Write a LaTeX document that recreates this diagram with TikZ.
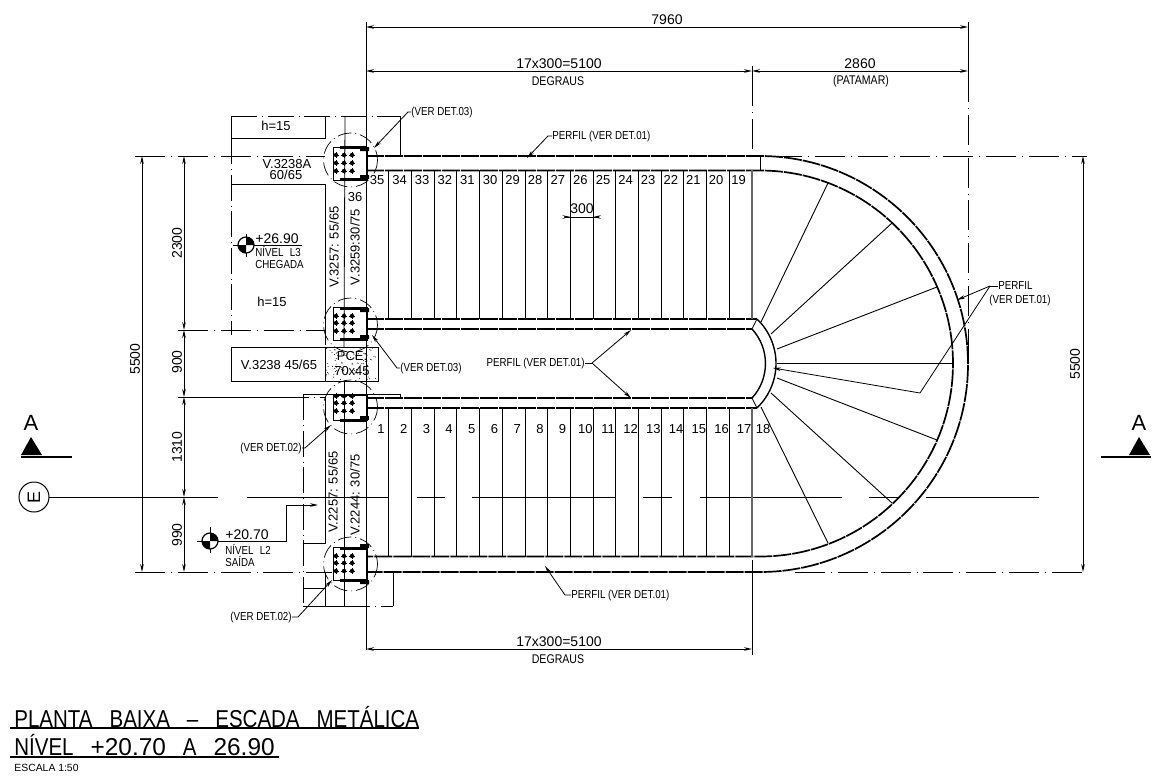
\documentclass[tikz,border=0pt]{standalone}
\usepackage{fontspec}
\setmainfont{Liberation Sans}
\newfontfamily\narrowfont[FakeStretch=0.84]{Liberation Sans}
\usetikzlibrary{arrows.meta}
\tikzset{
  >={Stealth[length=4pt,width=1.8pt]},
  thin line/.style={line width=0.4pt},
  stringer/.style={line width=0.85pt, dash pattern=on 9pt off 0.5pt},
  heavy/.style={line width=1.5pt},
  axis/.style={line width=0.4pt, dash pattern=on 15pt off 3pt on 0.4pt off 3pt},
  hidden/.style={line width=0.5pt, dash pattern=on 13pt off 2.5pt on 0.3pt off 2.5pt},
  ring/.style={line width=0.35pt, dash pattern=on 7pt off 2pt on 0.4pt off 2pt},
  dim/.style={line width=0.5pt, <->},
  leader/.style={line width=0.4pt, ->},
  dimtext/.style={font=\fontsize{7}{8}\selectfont, inner sep=0pt},
  note/.style={font=\narrowfont\fontsize{5.8}{7}\selectfont, inner sep=0pt},
  caption/.style={font=\narrowfont\fontsize{6.3}{7}\selectfont, inner sep=0pt},
  tag/.style={font=\fontsize{6.5}{7.5}\selectfont, inner sep=0pt},
  title/.style={anchor=west, inner sep=0pt, font=\narrowfont\fontsize{12.2}{14}\selectfont},
}
% bolted plate: the three bolt rows
\newcommand{\boltrows}[3]{
  \foreach \by in {#1,#2,#3} \foreach \bx in {336,344,352} {
    \fill (\bx,\by) circle (2.2);
    \draw[line width=0.3pt] (\bx-3,\by) -- (\bx+3,\by) (\bx,\by-3) -- (\bx,\by+3);
  }
}
\newcommand{\plateends}[2]{
  \draw[heavy] (340,#1) -- (367,#1) (340,#2) -- (367,#2);
  \fill (360,#1) rectangle (369,#1+4) (360,#2-4) rectangle (369,#2);
}
\begin{document}
\begin{tikzpicture}[x=0.5pt,y=-0.5pt,line width=0.4pt]
  \useasboundingbox (0,0) rectangle (1152,782);

  % grid lines
  \draw[axis] (135,156) -- (325,156);
  \draw[axis] (772,156) -- (1087,156);
  \draw[axis] (135,572) -- (332,572);
  \draw[axis] (795,572) -- (1087,572);
  \draw[axis] (178,330) -- (325,330);
  \draw[thin line] (178,397) -- (283,397);
  \draw[hidden] (283,397) -- (325,397);
  \foreach \xa/\xb in {49/218,247/388,417/445,472/615,643/672,700/842,869/898,926/1039}
    \draw[thin line] (\xa,497) -- (\xb,497);

  % slab and beams, left of the stair
  \draw[hidden] (231,116) -- (400,116);
  \draw[thin line] (400,116) -- (400,156);
  \draw[thin line] (231,116) -- (231,138) -- (325,138) -- (325,116);
  \draw[thin line] (231,184) -- (325,184) -- (325,345);
  \draw[hidden] (231,138) -- (231,335);
  \draw[thin line] (231,347) -- (366,347);
  \draw[thin line] (231,347) -- (231,381) -- (325,381);
  \draw[thin line] (345,116) -- (344,347);
  \draw[thin line] (303,394) -- (400,394) -- (400,398);
  \draw[hidden] (303,394) -- (303,606);
  \draw[thin line] (325,397) -- (325,543) -- (303,543);
  \draw[thin line] (303,588) -- (325,588) (325,572) -- (325,606);
  \draw[thin line] (303,606) -- (344,606) (344,381) -- (344,606);
  \draw[hidden] (344,606) -- (393,606);
  \draw[thin line] (393,606) -- (393,572);

  % pillar
  \draw[thin line] (325,347) rectangle (378,381);
  \pgfmathsetseed{11}
  \foreach \i in {1,...,90} {
    \pgfmathsetmacro{\dotx}{326+51*rnd}
    \pgfmathsetmacro{\doty}{348+32*rnd}
    \fill (\dotx,\doty) circle (0.5);
  }

  % stair flights
  \draw[stringer] (366,156) -- (760,156) arc[start angle=-90,end angle=90,radius=208] -- (366,572);
  \draw[stringer] (366,170.5) -- (760,170.5) arc[start angle=-90,end angle=90,radius=193] -- (366,556.5);
  \draw[stringer] (366,319) -- (757,319);
  \draw[stringer] (366,329) -- (752,329);
  \draw[stringer] (366,398) -- (752,398);
  \draw[stringer] (366,408) -- (757,408);
  \draw[thin line] (760,156) -- (760,170);

  % landing, inner edge
  \draw[line width=0.7pt] (752,329) arc[start angle=-42.6,end angle=42.6,radius=51];
  \draw[line width=0.7pt] (757,319) arc[start angle=-46.3,end angle=46.3,radius=61.5];
  \draw[thin line] (752,329) -- (757,319) (752,398) -- (757,408);

  % steps
  \foreach \k in {1,...,16} {
    \pgfmathsetmacro{\sx}{366+22.7*\k}
    \draw[thin line] (\sx,170) -- (\sx,319);
    \draw[thin line] (\sx,408) -- (\sx,557);
  }
  \foreach \xa/\ya/\xb/\yb in {761/322/828/183,771/334/892/223,777/349/937/287,777/363/954/363,
      777/378/937/440,771/393/892/503,761/407/828/543}
    \draw[line width=0.45pt] (\xa,\ya) -- (\xb,\yb);

  % step numbers
  \foreach \k in {1,...,17} {
    \pgfmathtruncatemacro{\up}{36-\k}
    \pgfmathsetmacro{\ux}{377+22.6*(\k-1)}
    \pgfmathsetmacro{\dx}{381+22.7*(\k-1)}
    \node[tag] (up\k) at (\ux,180) {\up};
    \node[tag] (dn\k) at (\dx,429) {\k};
  }
  \node[tag] (dn18) at (763,429) {18};
  \node[tag] (up36) at (355,197) {36};

  % plates
  \draw[thin line] (333,147) rectangle (367,180);
  \draw[thin line] (333,307) rectangle (367,340);
  \draw[thin line] (333,395) rectangle (367,420);
  \draw[thin line] (333,547) rectangle (367,580);
  \boltrows{155}{163}{171}
  \boltrows{316}{323}{331}
  \boltrows{396}{403}{411}
  \boltrows{556}{563}{571}
  \plateends{147}{179}
  \plateends{308}{339}
  \plateends{580}{548}
  \draw[heavy] (340,420) -- (367,420);
  \fill (360,416) rectangle (369,420);
  \draw[line width=1pt] (367,147) -- (367,180) (367,395) -- (367,420) (367,547) -- (367,580);
  \foreach \cy in {160,325,407,564}
    \draw[ring] (350.5,\cy) circle (27);

  % dimension lines
  \draw[thin line] (366,22) -- (366,156) (366,180) -- (366,650);
  \draw[axis] (752,76) -- (752,156);
  \draw[thin line] (752,66) -- (752,90) (752,560) -- (752,655);
  \draw[line width=0.6pt, color=black!60] (752,170) -- (752,319) (752,408) -- (752,557);
  \draw[thin line] (968,22) -- (968,72);
  \draw[axis] (968,72) -- (968,364);
  \draw[dim] (366,27) -- (968,27);
  \draw[dim] (366,71) -- (752,71);
  \draw[dim] (752,71) -- (968,71);
  \draw[dim] (366,649) -- (752,649);
  \draw[dim] (142,156) -- (142,572);
  \draw[dim] (184,156) -- (184,330);
  \draw[dim] (184,330) -- (184,397);
  \draw[dim] (184,397) -- (184,497);
  \draw[dim] (184,497) -- (184,572);
  \draw[dim] (1083,156) -- (1083,572);
  \draw[line width=0.35pt] (566,217) -- (598,217);
  \draw[line width=0.4pt, ->] (566,217) -- (570.5,217);
  \draw[line width=0.4pt, ->] (598,217) -- (593,217);

  \node[dimtext] (total) at (667,20) {7960};
  \node[dimtext] (flightup) at (559,64) {17x300=5100};
  \node[caption] (flightupb) at (558,81) {DEGRAUS};
  \node[dimtext] (landw) at (860,64) {2860};
  \node[caption] (landwb) at (861,81) {(PATAMAR)};
  \node[dimtext] (flightdn) at (559,642) {17x300=5100};
  \node[caption] (flightdnb) at (558,659) {DEGRAUS};
  \node[dimtext] (tread) at (582,209) {300};
  \node[dimtext,rotate=90] (leftall) at (135,359) {5500};
  \node[dimtext,rotate=90] (leftA) at (177,243) {2300};
  \node[dimtext,rotate=90] (leftB) at (177,362) {900};
  \node[dimtext,rotate=90] (leftC) at (177,447) {1310};
  \node[dimtext,rotate=90] (leftD) at (177,535) {990};
  \node[dimtext,rotate=90] (rightall) at (1075,364) {5500};

  % beam labels
  \node[tag] (hupper) at (276,126) {h=15};
  \node[tag] (hlower) at (272,302) {h=15};
  \node[tag] (vA) at (287,164) {V.3238A};
  \node[tag] (vAb) at (286,175) {60/65};
  \node[tag] (vB) at (279,365) {V.3238 45/65};
  \node[tag,align=center] (pce) at (352,363.5) {PCE:\\[0.2pt]70x45};
  \node[tag,rotate=90] (vC) at (334,247) {V.3257: 55/65};
  \node[tag,rotate=90] (vD) at (355,247) {V.3259:30/75};
  \node[tag,rotate=90] (vE) at (333,492) {V.2257: 55/65};
  \node[tag,rotate=90] (vF) at (355,495) {V.2244: 30/75};

  % levels
  \draw[thin line] (233,245) -- (302,245) (246,234) -- (246,257);
  \fill[white] (246,245) circle (8);
  \draw[line width=0.6pt] (246,245) circle (8);
  \fill (246,245) -- (254,245) arc (0:-90:8) -- cycle;
  \fill (246,245) -- (238,245) arc (180:90:8) -- cycle;
  \node[dimtext,anchor=west] (lvupper) at (255,239) {+26.90};
  \node[note,anchor=west] (lvupperb) at (255,252) {{\spaceskip=3.2pt NÍVEL L3}};
  \node[note,anchor=west] (lvupperc) at (255,265) {CHEGADA};
  \draw[thin line] (197,541) -- (286,541) -- (286,505);
  \draw[leader] (286,505) -- (318,505);
  \draw[thin line] (210,527) -- (210,553);
  \fill[white] (210,541) circle (8);
  \draw[line width=0.6pt] (210,541) circle (8);
  \fill (210,541) -- (218,541) arc (0:-90:8) -- cycle;
  \fill (210,541) -- (202,541) arc (180:90:8) -- cycle;
  \node[dimtext,anchor=west] (lvlower) at (225,535) {+20.70};
  \node[note,anchor=west] (lvlowerb) at (225,549) {{\spaceskip=3.2pt NÍVEL L2}};
  \node[note,anchor=west] (lvlowerc) at (225,562) {SAÍDA};

  % leaders
  \node[note,anchor=west] (detA) at (411,112) {(VER DET.03)};
  \coordinate (detAend) at (374,148);
  \draw[leader] (detA.west) -- ++(-3,0) -- (detAend);
  \node[note,anchor=west] (detB) at (400,368) {(VER DET.03)};
  \coordinate (detBend) at (372,335);
  \draw[leader] (detB.west) -- ++(-3,0) -- (detBend);
  \node[note,anchor=east] (detC) at (302,448) {(VER DET.02)};
  \coordinate (detCend) at (331,425);
  \draw[leader] (detC.east) -- ++(3,0) -- (detCend);
  \node[note,anchor=east] (detD) at (292,617) {(VER DET.02)};
  \coordinate (detDend) at (332,580);
  \draw[leader] (detD.east) -- ++(6,0) -- (detDend);

  \node[note,anchor=west] (profA) at (552,136) {PERFIL (VER DET.01)};
  \coordinate (profAend) at (527,158);
  \draw[leader] (profA.west) -- ++(-4,0) -- (profAend);
  \node[note,anchor=west] (profB) at (571,595) {PERFIL (VER DET.01)};
  \coordinate (profBend) at (545,566);
  \draw[leader] (profB.west) -- ++(-6,0) -- (profBend);
  \node[note,anchor=east] (profC) at (585,363) {PERFIL (VER DET.01)};
  \coordinate (profCknee) at (592,363);
  \coordinate (profCup) at (631,330);
  \coordinate (profCdown) at (631,398);
  \draw[thin line] (profC.east) -- (profCknee);
  \draw[leader] (profCknee) -- (profCup);
  \draw[leader] (profCknee) -- (profCdown);
  \node[note,anchor=west] (profD) at (998,286) {PERFIL};
  \node[note,anchor=west] (profDb) at (989,300) {(VER DET.01)};
  \coordinate (profDknee) at (990,286);
  \coordinate (profDouter) at (957,300);
  \coordinate (profDbend) at (920,393);
  \coordinate (profDinner) at (773,368);
  \draw[thin line] (profD.west) -- (profDknee);
  \draw[leader] (profDknee) -- (profDouter);
  \draw[leader] (profDknee) -- (profDbend) -- (profDinner);

  % section marks and axis bubble
  \node[font=\fontsize{11}{12}\selectfont, inner sep=0pt] (secL) at (31,423) {A};
  \fill (21,455) -- (31,437) -- (42,455) -- cycle;
  \draw[line width=0.6pt] (21,457) -- (72,457);
  \node[font=\fontsize{11}{12}\selectfont, inner sep=0pt] (secR) at (1139,423) {A};
  \fill (1129,455) -- (1139,437) -- (1150,455) -- cycle;
  \draw[line width=0.6pt] (1101,457) -- (1151,457);
  \node[circle, draw, line width=0.5pt, minimum size=15pt, inner sep=0pt,
        font=\fontsize{9}{10}\selectfont] (axisE) at (34,497) {\rotatebox{90}{E}};

  % title
  \node[title] (titleA) at (14,717) {{\spaceskip=8.5pt PLANTA BAIXA – ESCADA METÁLICA}};
  \draw[line width=0.6pt] (10,728) -- (419,728);
  \node[title] (titleB) at (14,745) {{\spaceskip=8.5pt NÍVEL {\normalfont +20.70} A {\normalfont 26.90}}};
  \draw[line width=0.6pt] (10,757) -- (279,757);
  \node[anchor=west, inner sep=0pt, font=\fontsize{5.2}{6}\selectfont] (titleC) at (14,768) {ESCALA 1:50};
\end{tikzpicture}
\end{document}
